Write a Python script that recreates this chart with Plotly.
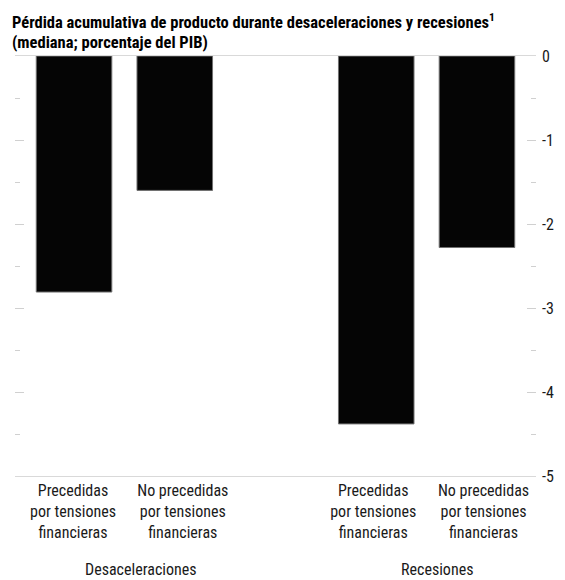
import plotly.graph_objects as go

# Data
categories = ["Precedidas<br>por tensiones<br>financieras",
              "No precedidas<br>por tensiones<br>financieras",
              "Precedidas<br>por tensiones<br>financieras",
              "No precedidas<br>por tensiones<br>financieras"]
groups = ["Desaceleraciones", "Recesiones"]
values = [-2.81, -1.60, -4.38, -2.28]
positions = [0, 1, 3, 4]
label_offsets = [-0.01, 0.08, -0.03, 0.065]
y_ticks = [0, -1, -2, -3, -4, -5]

FONT = "Liberation Sans Narrow, Arial Narrow, Roboto Condensed, sans-serif"
TXT = "#1a1a1a"
TICKC = "#d0d0d0"

fig = go.Figure()
fig.add_trace(go.Bar(
    x=positions, y=values, width=0.75,
    marker=dict(color="#050505", line=dict(color="#707070", width=1)),
    showlegend=False, hoverinfo="skip",
))

fig.update_layout(
    width=565, height=580,
    margin=dict(l=15, r=29, t=56, b=104),
    paper_bgcolor="white", plot_bgcolor="white",
    font=dict(family=FONT, size=16, color=TXT),
    xaxis=dict(
        range=[-0.586, 4.586],
        tickvals=[p + o for p, o in zip(positions, label_offsets)],
        ticktext=categories,
        ticks="", showgrid=False, zeroline=False,
        showline=True, mirror=True, linecolor="#d9d9d9", linewidth=1,
        tickfont=dict(size=16, color=TXT), ticklabelstandoff=0,
    ),
    yaxis=dict(
        side="right", range=[-5, 0],
        tickvals=y_ticks, ticktext=[str(v) for v in y_ticks],
        ticks="inside", ticklen=9, tickwidth=1, tickcolor=TICKC,
        minor=dict(ticks="inside", ticklen=5, dtick=0.5, tickcolor=TICKC, tickwidth=1, showgrid=False),
        showgrid=False, zeroline=False, showline=False,
        tickfont=dict(size=16, color=TXT), ticklabelstandoff=5,
    ),
    yaxis2=dict(
        overlaying="y", side="left", range=[-5, 0],
        tickvals=y_ticks, showticklabels=False,
        ticks="inside", ticklen=9, tickwidth=1, tickcolor=TICKC,
        minor=dict(ticks="inside", ticklen=5, dtick=0.5, tickcolor=TICKC, tickwidth=1, showgrid=False),
        showgrid=False, zeroline=False, showline=False,
    ),
)

# invisible trace to anchor left axis
fig.add_trace(go.Scatter(x=[positions[0]], y=[values[0]], yaxis="y2", mode="markers",
                         marker=dict(opacity=0), showlegend=False, hoverinfo="skip"))

# group labels
group_x = [0.66, 3.6]
for g, gx in zip(groups, group_x):
    fig.add_annotation(x=gx, y=-0.222, xref="x", yref="paper", text=g, showarrow=False,
                       xanchor="center", yanchor="middle", font=dict(size=16, color=TXT))

# title
fig.add_annotation(x=-0.0096, y=1.083, xref="paper", yref="paper", xanchor="left", yanchor="middle",
                   text="<b>Pérdida acumulativa de producto durante desaceleraciones y recesiones<sup>1</sup></b>",
                   showarrow=False, font=dict(size=16.5, color="#000"))
fig.add_annotation(x=-0.0096, y=1.033, xref="paper", yref="paper", xanchor="left", yanchor="middle",
                   text="<b>(mediana; porcentaje del PIB)</b>",
                   showarrow=False, font=dict(size=16.5, color="#000"))

fig.write_html("out.html")
